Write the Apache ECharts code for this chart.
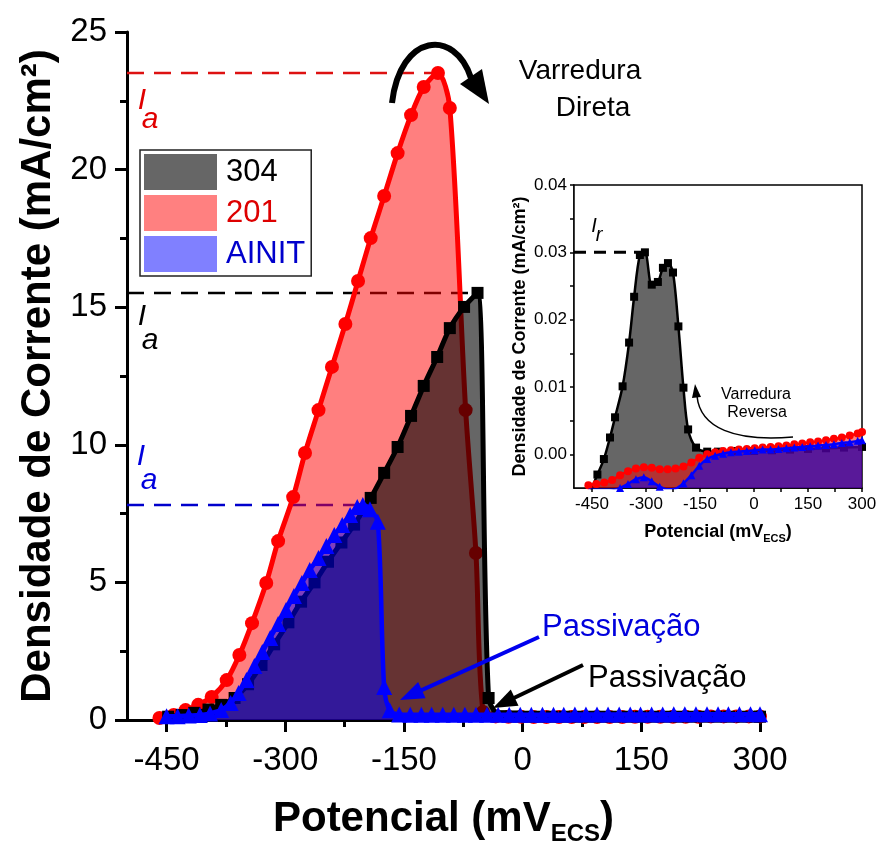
<!DOCTYPE html>
<html>
<head>
<meta charset="utf-8">
<script src="https://cdn.jsdelivr.net/npm/echarts@6/dist/echarts.min.js"></script>
<style>
  html, body { margin: 0; padding: 0; background: #fff; }
  #chart { width: 879px; height: 850px; }
</style>
</head>
<body>
<div id="chart"></div>
<script>
// ---- Forward sweep (main panel): potential (mV vs ECS) and current density (mA/cm²) ----
const potencial201 = [-459, -441, -426, -410, -393, -374, -358, -342, -324, -309, -290, -275, -258, -241, -224,
  -208, -192, -175, -158, -141, -125, -107, -92, -72, -59, -50, -34, -18, -2, 14, 30, 46, 62, 78, 94, 110,
  126, 142, 158, 174, 190, 206, 222, 238, 254, 270, 286, 300];
const corrente201 = [0.07, 0.18, 0.36, 0.55, 0.84, 1.45, 2.36, 3.52, 4.98, 6.50, 8.10, 9.70, 11.26, 12.83, 14.39,
  15.95, 17.51, 19.04, 20.60, 21.98, 23.00, 23.51, 22.24, 11.26, 6.07, 0.29, 0.13, 0.12, 0.12, 0.11, 0.11, 0.11,
  0.11, 0.11, 0.11, 0.11, 0.11, 0.12, 0.12, 0.12, 0.12, 0.12, 0.12, 0.13, 0.13, 0.13, 0.13, 0.13];

const potencial304 = [-448, -431, -415, -397, -381, -364, -347, -330, -314, -296, -280, -263, -246, -229, -213,
  -192, -175, -158, -141, -125, -108, -92, -74, -57, -43, -27, -11, 5, 21, 37, 53, 69, 85, 101, 117, 133, 149,
  165, 181, 197, 213, 229, 245, 261, 277, 293, 300];
const corrente304 = [0.12, 0.18, 0.26, 0.38, 0.55, 0.80, 1.30, 2.00, 2.75, 3.55, 4.30, 5.00, 5.75, 6.45, 7.10,
  8.07, 8.98, 9.92, 11.05, 12.14, 13.19, 14.24, 15.01, 15.52, 0.80, 0.14, 0.13, 0.12, 0.12, 0.12, 0.12, 0.12,
  0.12, 0.12, 0.12, 0.12, 0.12, 0.12, 0.12, 0.12, 0.12, 0.12, 0.12, 0.12, 0.12, 0.12, 0.12];

const potencialAINIT = [-450, -436, -422, -408, -395, -381, -369, -359, -349, -339, -329, -319, -309, -299, -289,
  -279, -269, -258, -248, -238, -228, -218, -209, -202, -193, -183, -175, -168, -156, -142, -128, -115, -101,
  -87, -73, -59, -45, -31, -17, -3, 11, 25, 39, 52, 66, 80, 94, 108, 122, 136, 149, 163, 177, 191, 205, 219,
  233, 247, 260, 274, 288, 300];
const correnteAINIT = [0.14, 0.14, 0.16, 0.18, 0.24, 0.36, 0.62, 0.98, 1.45, 1.96, 2.47, 2.98, 3.49, 4.00, 4.51,
  4.98, 5.45, 5.89, 6.32, 6.72, 7.09, 7.45, 7.74, 7.81, 7.66, 7.20, 1.20, 0.35, 0.20, 0.19, 0.19, 0.19, 0.19,
  0.19, 0.19, 0.19, 0.19, 0.19, 0.19, 0.19, 0.19, 0.19, 0.19, 0.19, 0.20, 0.20, 0.20, 0.20, 0.20, 0.20, 0.20,
  0.20, 0.20, 0.21, 0.21, 0.21, 0.21, 0.21, 0.21, 0.21, 0.21, 0.21];

// ---- Reverse sweep (inset) ----
const potencialRev304 = [-455, -435, -417, -400, -386, -365, -347, -333, -317, -303, -284, -267, -253, -239,
  -225, -210, -196, -183, -161, -130, -100, -50, 0, 50, 100, 150, 200, 250, 300];
const correnteRev304 = [-0.0056, -0.0030, -0.0007, 0.0025, 0.0055, 0.0101, 0.0166, 0.0234, 0.0296, 0.0300,
  0.0252, 0.0256, 0.0277, 0.0284, 0.0270, 0.0190, 0.0099, 0.0037, 0.0010, 0.0004, 0.0004, 0.0005, 0.0005,
  0.0006, 0.0007, 0.0008, 0.0009, 0.0010, 0.0011];

const potencialRev = [-460, -438, -416, -394, -372, -350, -328, -306, -284, -262, -240, -218, -196, -174, -152,
  -130, -108, -86, -64, -42, -20, 2, 24, 46, 68, 90, 112, 134, 156, 178, 200, 222, 244, 266, 288, 300];
const correnteRev201 = [-0.0046, -0.0044, -0.0042, -0.0038, -0.0031, -0.0025, -0.0021, -0.0019, -0.0020,
  -0.0022, -0.0022, -0.0021, -0.0018, -0.0012, -0.0005, 0.0000, 0.0003, 0.0005, 0.0006, 0.0007, 0.0008,
  0.0009, 0.0010, 0.0011, 0.0012, 0.0013, 0.0015, 0.0016, 0.0018, 0.0019, 0.0021, 0.0023, 0.0025, 0.0028,
  0.0031, 0.0033];
const correnteRevAINIT = [-0.0060, -0.0058, -0.0056, -0.0054, -0.0050, -0.0044, -0.0037, -0.0034, -0.0040,
  -0.0048, -0.0052, -0.0051, -0.0043, -0.0031, -0.0017, -0.0007, -0.0002, 0.0001, 0.0003, 0.0004, 0.0005,
  0.0006, 0.0007, 0.0007, 0.0008, 0.0009, 0.0010, 0.0011, 0.0012, 0.0013, 0.0014, 0.0015, 0.0017, 0.0018,
  0.0020, 0.0021];

// ---- Axis ticks ----
const xTicksMajor = [-450, -300, -150, 0, 150, 300];
const xTicksMinor = [-375, -225, -75, 75, 225];
const xTicksInset = [-450, -375, -300, -225, -150, -75, 0, 75, 150, 225, 300];
const yLabelsInset = [0, 0.01, 0.02, 0.03, 0.04];
const yTicksInset = [0, 0.005, 0.01, 0.015, 0.02, 0.025, 0.03, 0.035, 0.04];

const FONT = '"Liberation Sans", Arial, Helvetica, sans-serif';
const pairs = (xs, ys) => xs.map((x, i) => [x, ys[i]]);
function peakOf(xs, ys) {
  let k = 0;
  ys.forEach((v, i) => { if (v > ys[k]) k = i; });
  return [xs[k], ys[k]];
}

function curve(name, xs, ys, color, fill, symbol, size, width, z, xi, yi, origin) {
  return {
    type: 'line', name, xAxisIndex: xi, yAxisIndex: yi, z,
    data: pairs(xs, ys), smooth: 0.3,
    symbol, symbolSize: size, showSymbol: true,
    lineStyle: { color, width },
    itemStyle: { color, borderWidth: 0 },
    areaStyle: { color: fill, opacity: 1, origin },
    emphasis: { disabled: true },
    silent: true
  };
}

function peakLine(xs, ys, xmin, color, width, dash, z, xi, yi) {
  const [px, py] = peakOf(xs, ys);
  return {
    type: 'line', xAxisIndex: xi, yAxisIndex: yi, z, silent: true,
    data: [[xmin, py], [px, py]], symbol: 'none',
    lineStyle: { color, width, type: dash }
  };
}

const chart = echarts.init(document.getElementById('chart'), null, { renderer: 'canvas' });

const txt = (text, x, y, size, color, extra) => ({
  type: 'text', z: 100, x, y,
  style: Object.assign({ text, fill: color, fontSize: size, fontFamily: FONT,
    align: 'center', verticalAlign: 'middle' }, extra || {})
});

function arrow(x0, y0, x1, y1, color, w, hl, hw) {
  const dx = x1 - x0, dy = y1 - y0, L = Math.hypot(dx, dy), ux = dx / L, uy = dy / L;
  const bx = x1 - ux * hl, by = y1 - uy * hl;
  return [
    { type: 'line', z: 100, shape: { x1: x0, y1: y0, x2: bx + ux * 2, y2: by + uy * 2 },
      style: { stroke: color, lineWidth: w } },
    { type: 'polygon', z: 100,
      shape: { points: [[x1, y1], [bx - uy * hw, by + ux * hw], [bx + uy * hw, by - ux * hw]] },
      style: { fill: color } }
  ];
}

const subLabel = (main, sub, x, y, size, color, dx, dy) => [
  txt(main, x, y, size, color, { fontStyle: 'italic' }),
  txt(sub, x + dx, y + dy, size, color, { fontStyle: 'italic' })
];

const graphics = [].concat(
  // forward sweep direction
  [
    txt('Varredura', 580, 71, 28, '#000'),
    txt('Direta', 593, 108, 28, '#000'),
    { type: 'bezierCurve', z: 100,
      shape: { x1: 392, y1: 103, cpx1: 400, cpy1: 33, cpx2: 455, cpy2: 28, x2: 471, y2: 78 },
      style: { stroke: '#000', lineWidth: 6, fill: null } },
    { type: 'polygon', z: 100, shape: { points: [[489, 104], [460, 84], [482, 69]] }, style: { fill: '#000' } }
  ],
  // passivation notes
  [
    txt('Passivação', 542, 627, 31, '#0000dd', { align: 'left' }),
    txt('Passivação', 588, 678, 31, '#000', { align: 'left' })
  ],
  arrow(539, 637, 400, 700, '#0000ee', 4, 24, 9),
  arrow(583, 665, 493, 708, '#000', 4, 24, 9),
  // peak current markers
  subLabel('I', 'a', 142, 101, 30, '#e00000', 8, 19),
  subLabel('I', 'a', 142, 317, 30, '#000', 8, 24),
  subLabel('I', 'a', 141, 457, 30, '#0000dd', 8, 24),
  // inset annotations
  [
    txt('Varredura', 756, 395, 16, '#000'),
    txt('Reversa', 757, 413, 16, '#000'),
    { type: 'bezierCurve', z: 100,
      shape: { x1: 793, y1: 437, cpx1: 735, cpy1: 442, cpx2: 700, cpy2: 428, x2: 697, y2: 396 },
      style: { stroke: '#000', lineWidth: 1.5, fill: null } },
    { type: 'polygon', z: 100, shape: { points: [[695, 384], [692, 398], [701, 397]] }, style: { fill: '#000' } }
  ],
  subLabel('I', 'r', 594, 226, 20, '#000', 5, 9)
);

const option = {
  animation: false,
  backgroundColor: '#ffffff',
  textStyle: { fontFamily: FONT },
  grid: [
    { left: 127, top: 32, width: 633, height: 688, containLabel: false, outerBoundsMode: 'none' },
    { left: 574, top: 185, width: 288, height: 303, containLabel: false, outerBoundsMode: 'none',
      show: true, backgroundColor: '#ffffff', borderColor: '#000', borderWidth: 1.5, z: 5 }
  ],
  xAxis: [
    {
      type: 'value', gridIndex: 0, min: -500, max: 300,
      axisLine: { show: true, onZero: false, lineStyle: { color: '#000', width: 3 } },
      axisTick: { show: true, customValues: xTicksMajor, length: 12, lineStyle: { color: '#000', width: 3 } },
      axisLabel: { customValues: xTicksMajor, color: '#000', fontSize: 33, fontFamily: FONT, margin: 24 },
      splitLine: { show: false },
      name: '{t|Potencial (mV}{s|ECS}{t|)}',
      nameLocation: 'middle', nameGap: 72,
      nameTextStyle: {
        rich: {
          t: { fontSize: 42, fontWeight: 'bold', fontFamily: FONT, color: '#000' },
          s: { fontSize: 24, fontWeight: 'bold', fontFamily: FONT, color: '#000', padding: [30, 0, 0, 0] }
        }
      }
    },
    {
      type: 'value', gridIndex: 0, min: -500, max: 300, position: 'bottom',
      axisLine: { show: false },
      axisTick: { show: true, customValues: xTicksMinor, length: 7, lineStyle: { color: '#000', width: 3 } },
      axisLabel: { show: false },
      splitLine: { show: false }
    },
    {
      type: 'value', gridIndex: 1, min: -500, max: 300,
      axisLine: { show: true, onZero: false, lineStyle: { color: '#000', width: 1.5 } },
      axisTick: { show: true, customValues: xTicksInset, length: 4, lineStyle: { color: '#000', width: 1.5 } },
      axisLabel: { customValues: xTicksMajor, color: '#000', fontSize: 17, fontFamily: FONT, margin: 8 },
      splitLine: { show: false },
      name: '{t|Potencial (mV}{s|ECS}{t|)}',
      nameLocation: 'middle', nameGap: 33,
      nameTextStyle: {
        rich: {
          t: { fontSize: 18, fontWeight: 'bold', fontFamily: FONT, color: '#000' },
          s: { fontSize: 11, fontWeight: 'bold', fontFamily: FONT, color: '#000', padding: [12, 0, 0, 0] }
        }
      }
    }
  ],
  yAxis: [
    {
      type: 'value', gridIndex: 0, min: 0, max: 25, interval: 5,
      axisLine: { show: true, onZero: false, lineStyle: { color: '#000', width: 3 } },
      axisTick: { show: true, length: 12, lineStyle: { color: '#000', width: 3 } },
      minorTick: { show: true, splitNumber: 2, length: 7, lineStyle: { color: '#000', width: 3 } },
      axisLabel: { color: '#000', fontSize: 33, fontFamily: FONT, margin: 20 },
      splitLine: { show: false },
      name: 'Densidade de Corrente (mA/cm²)',
      nameLocation: 'middle', nameGap: 52, nameRotate: 90,
      nameTextStyle: { fontSize: 42, fontWeight: 'bold', fontFamily: FONT, color: '#000' }
    },
    {
      type: 'value', gridIndex: 1, min: -0.005, max: 0.04,
      axisLine: { show: true, onZero: false, lineStyle: { color: '#000', width: 1.5 } },
      axisTick: { show: true, customValues: yTicksInset, length: 4, lineStyle: { color: '#000', width: 1.5 } },
      axisLabel: { customValues: yLabelsInset, color: '#000', fontSize: 17, fontFamily: FONT, margin: 7,
        formatter: v => v.toFixed(2) },
      splitLine: { show: false },
      name: 'Densidade de Corrente (mA/cm²)',
      nameLocation: 'middle', nameGap: 45, nameRotate: 90,
      nameTextStyle: { fontSize: 18, fontWeight: 'bold', fontFamily: FONT, color: '#000' }
    }
  ],
  legend: {
    left: 140, top: 150, orient: 'vertical', icon: 'rect',
    itemWidth: 73, itemHeight: 36, itemGap: 5, padding: [4, 6, 4, 4],
    borderColor: '#222', borderWidth: 1.5, backgroundColor: '#fff',
    selectedMode: false,
    textStyle: { fontSize: 31, fontFamily: FONT, padding: [0, 0, 0, 4] },
    data: [
      { name: '304', itemStyle: { color: '#666666', borderWidth: 0 }, textStyle: { color: '#000' } },
      { name: '201', itemStyle: { color: '#ff8080', borderWidth: 0 }, textStyle: { color: '#dd0000' } },
      { name: 'AINIT', itemStyle: { color: '#8080ff', borderWidth: 0 }, textStyle: { color: '#0000cc' } }
    ]
  },
  series: [
    // main panel: peak-current guide lines sit underneath the filled curves
    peakLine(potencial201, corrente201, -500, '#dd1111', 2.5, [17, 10], 1, 0, 0),
    peakLine(potencial304, corrente304, -500, '#000000', 2.5, [17, 10], 1, 0, 0),
    peakLine(potencialAINIT, correnteAINIT, -500, '#0000cc', 2.5, [17, 10], 1, 0, 0),
    curve('201', potencial201, corrente201, '#ff0000', 'rgba(255,0,0,0.5)', 'circle', 14, 5, 2, 0, 0, 'auto'),
    curve('304', potencial304, corrente304, '#000000', 'rgba(0,0,0,0.6)', 'rect', 12, 5, 3, 0, 0, 'auto'),
    curve('AINIT', potencialAINIT, correnteAINIT, '#0000ff', 'rgba(0,0,255,0.5)', 'triangle', 16, 4.5, 4, 0, 0, 'auto'),
    // inset: reverse sweep
    peakLine(potencialRev304, correnteRev304, -500, '#000000', 3, [12, 8], 6, 2, 1),
    curve('304 reversa', potencialRev304, correnteRev304, '#000000', 'rgba(0,0,0,0.6)', 'rect', 8, 2.5, 7, 2, 1, 'start'),
    curve('201 reversa', potencialRev, correnteRev201, '#ff0000', 'rgba(255,0,0,0.5)', 'circle', 8, 2.5, 8, 2, 1, 'start'),
    curve('AINIT reversa', potencialRev, correnteRevAINIT, '#0000ff', 'rgba(0,0,255,0.5)', 'triangle', 8, 2.5, 9, 2, 1, 'start')
  ],
  graphic: { elements: graphics }
};

chart.setOption(option);
</script>
</body>
</html>
